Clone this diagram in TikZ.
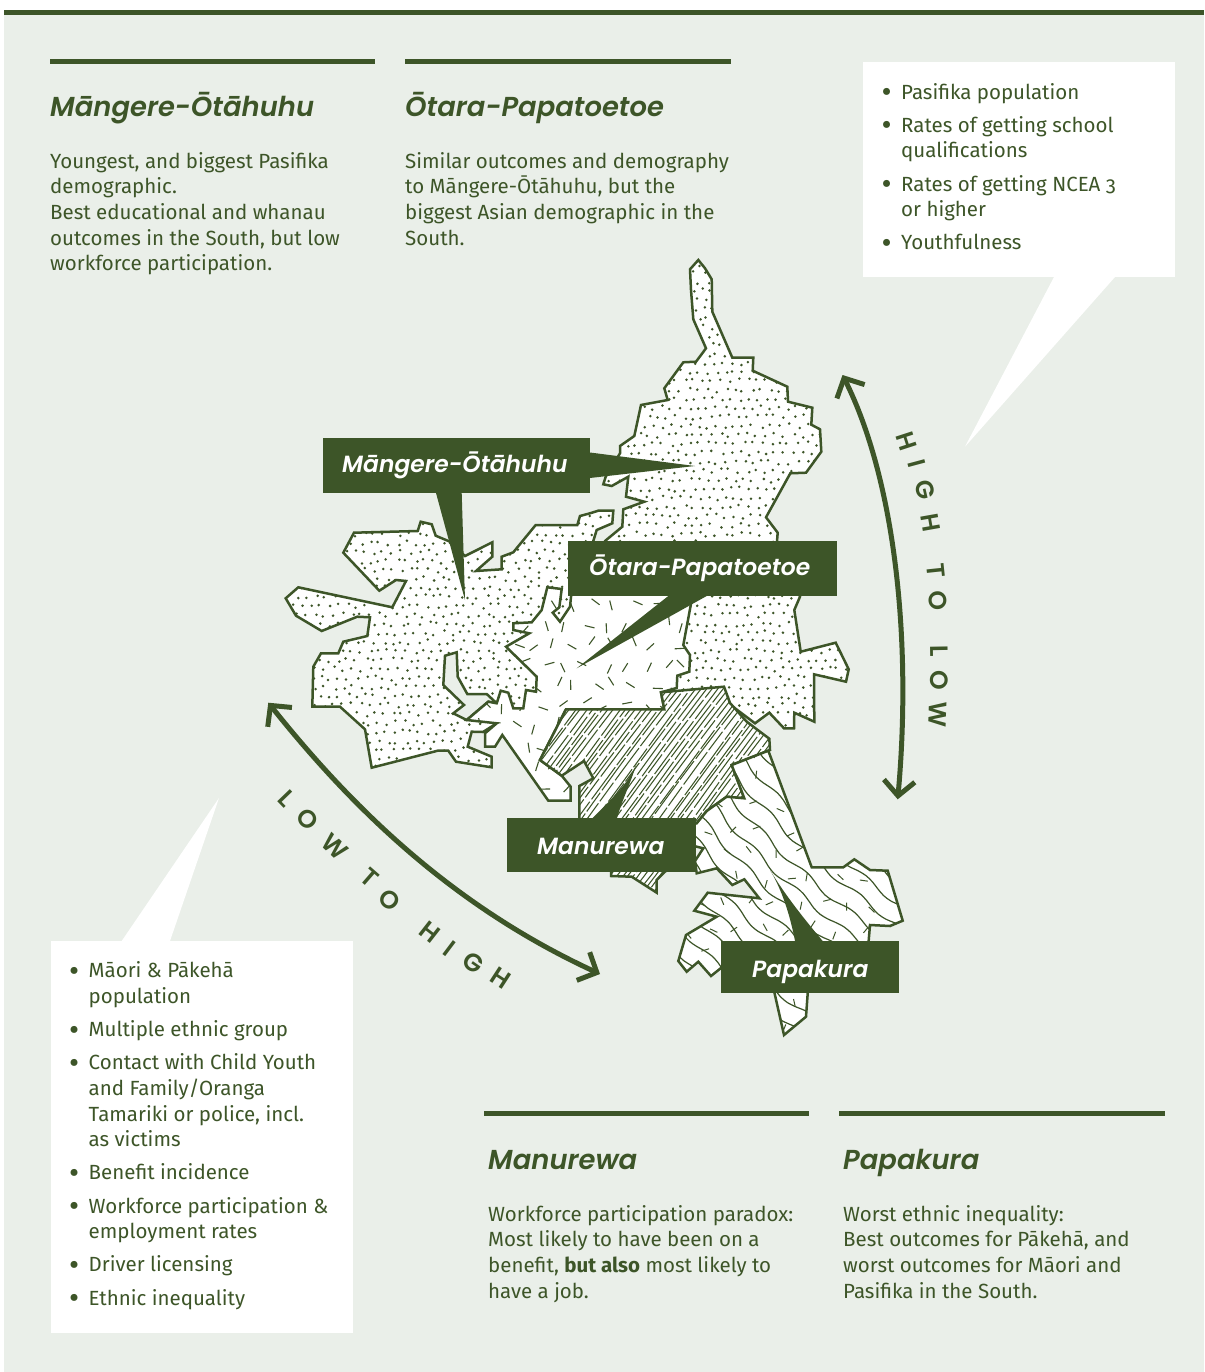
\documentclass[tikz,border=0pt]{standalone}
\usepackage{fontspec}
\setmainfont{Fira Sans}
\newfontfamily\hdfont{Poppins SemiBold}
\usetikzlibrary{arrows.meta}
\definecolor{ink}{HTML}{3D5528}
\definecolor{paper}{HTML}{EAEFE9}
\newcommand{\flr}{\rule{0pt}{18pt}}
\newcommand{\bul}{\llap{\raisebox{-3.6pt}{\fontsize{31}{31}\selectfont\textbullet}\hspace{9.6pt}}}
\newcommand{\itemgap}{\\[7.6pt]}
\newcommand{\PMangere}{(698.3,260) -- (705,268.3) -- (711.7,279.3) -- (712.3,311.7) -- (732.3,357.7) -- (753.3,357.7) -- (752.7,370.7) -- (787.3,386.7) -- (788,401.7) -- (812.3,407.7) -- (811.3,424.7) -- (820,429.3) -- (821.3,451.7) -- (806,472.7) -- (790.3,473.3) -- (766,517.3) -- (777.7,532.7) -- (776.7,545) -- (800,596.7) -- (794.3,610) -- (800.7,651.7) -- (835.7,642.7) -- (848.7,669.3) -- (846,681.7) -- (814,674.3) -- (814.3,721.7) -- (794.3,712.7) -- (794,728.3) -- (784,728.3) -- (769.3,712.7) -- (755,723.3) -- (724,700) -- (661,700) -- (600,720) -- (510,725) -- (496.7,723.3) -- (483,732) -- (471.7,731.7) -- (467.7,746.7) -- (491.7,756.7) -- (491.7,767.3) -- (456,761.7) -- (448.3,750.7) -- (437.7,750.7) -- (371.7,767.7) -- (365,729.3) -- (340,706.7) -- (312.3,706.7) -- (313.3,666.7) -- (321,653.3) -- (338.3,653.3) -- (343.3,641.7) -- (367.3,636) -- (370,617.3) -- (357.3,616.7) -- (321.7,631) -- (296,615.7) -- (285.7,598.3) -- (298.3,587.3) -- (392.3,607.3) -- (406,581) -- (396,580) -- (379.3,590.7) -- (343.3,552.7) -- (354,532.7) -- (417.7,531) -- (420.7,521.7) -- (431.7,524.3) -- (435.7,535.7) -- (450,541.7) -- (465,556) -- (492.3,542.3) -- (492.3,556.7) -- (476,571) -- (501.7,569.3) -- (501.7,556.7) -- (513.3,552.3) -- (535.7,525) -- (577.3,525) -- (580,516) -- (590,513.3) -- (598.3,510.7) -- (613.3,510.7) -- (612.3,523.3) -- (596.7,530) -- (593.3,541) -- (593,560) -- (605,560) -- (605,541) -- (622.3,526.7) -- (623.3,509.3) -- (644.3,501.7) -- (626,496.7) -- (628.3,476.7) -- (611.7,486) -- (603.3,484.3) -- (605.7,476.7) -- (620,453.3) -- (620,446) -- (634.3,436) -- (641,405) -- (667.7,400) -- (664.3,388.3) -- (683.3,362.3) -- (696,361.7) -- (706,348.3) -- (693.3,319.3) -- (691,290) -- (690,269.3) -- cycle}
\newcommand{\PWater}{(456.7,652.3) -- (445,655.7) -- (443.3,685) -- (464,705) -- (453.3,713.3) -- (466.7,720) -- (488.3,701.7) -- (496.7,703.3) -- (486.7,694) -- (467.3,694) -- (457.7,676.7) -- cycle}
\newcommand{\POtara}{(691.7,600) -- (683.3,645) -- (690,655) -- (689.3,671.7) -- (677.3,675.7) -- (676.7,688) -- (661,692.3) -- (664.3,709.3) -- (566,709.3) -- (540,760) -- (561.7,775.7) -- (570.7,786.7) -- (570.7,800.7) -- (548.3,800.7) -- (502.3,735) -- (495,746.7) -- (485,746.7) -- (485,733.3) -- (496.7,723.3) -- (466.7,720) -- (488.3,701.7) -- (496.7,703.3) -- (500.7,690.7) -- (508.3,692.7) -- (513.3,708.3) -- (523.3,708.3) -- (526,690) -- (536,691.7) -- (536.7,676.7) -- (506,646.7) -- (529.3,633.3) -- (513.3,630) -- (513.3,623.3) -- (531.7,622.3) -- (541.7,610) -- (547.3,587.3) -- (561.7,589) -- (559.3,607.3) -- (552.7,612.7) -- (560,621.7) -- (570,606.7) -- (571.7,590) -- (700,590) -- cycle}
\newcommand{\PManurewa}{(566,709.3) -- (664.3,709.3) -- (661,692.3) -- (724,686.7) -- (730,703) -- (746.7,721.7) -- (769.3,738.7) -- (770,750) -- (731.7,765) -- (744.3,798.3) -- (726.7,796.7) -- (706.7,811) -- (696.7,823.3) -- (690,850) -- (665,871.7) -- (656.7,880) -- (656.7,892.7) -- (631.7,876.7) -- (611,876) -- (611,860) -- (579.3,840) -- (579.3,786) -- (593.3,778.3) -- (584,761) -- (561.7,775.7) -- (540,760) -- cycle}
\newcommand{\PPapakura}{(731.7,765) -- (768.3,750.7) -- (811.7,867.3) -- (843.3,867.3) -- (854.3,859.3) -- (870,870) -- (887.7,870.7) -- (902.7,920.7) -- (890,926) -- (870,925) -- (868.3,945) -- (808.3,985) -- (806,1016.7) -- (784,1035) -- (772.7,985) -- (725,960) -- (721,968) -- (711,976) -- (698.3,961.7) -- (686.7,971.7) -- (678.3,961) -- (686,935) -- (716.7,916.7) -- (694.3,910.7) -- (707.7,892.7) -- (759.3,898.3) -- (744.3,879.3) -- (732.3,885) -- (716.7,868.3) -- (696.7,873.3) -- (695,861) -- (703.3,848.3) -- (690,845) -- (690,825) -- (696.7,823.3) -- (706.7,811) -- (726.7,796.7) -- (744.3,798.3) -- cycle}
\tikzset{
  region/.style={draw=ink,line width=2.5pt,line join=miter,miter limit=6},
  bodytext/.style={anchor=north west,inner sep=0pt,align=left,text=ink,font=\fontsize{20.5}{25.6}\selectfont},
  head/.style={anchor=base west,inner sep=0pt,text=ink,font=\hdfont\itshape\fontsize{27.4}{32}\selectfont},
  tag/.style={anchor=base west,inner sep=0pt,text=white,font=\hdfont\itshape\fontsize{23.4}{28}\selectfont},
  bar/.style={fill=ink,draw=none},
  callout/.style={fill=white,draw=none},
  arc letter/.style={text=ink,inner sep=0pt,font=\hdfont\fontsize{25}{28}\selectfont},
  bend arrow/.style={draw=ink,line width=5pt,{Straight Barb[length=15pt,width=31pt,line width=5pt]}-{Straight Barb[length=15pt,width=31pt,line width=5pt]}},
}
\begin{document}
\begin{tikzpicture}[x=1pt,y=-1pt]
\useasboundingbox (0,0) rectangle (1204,1372);
\fill[white] (0,0) rectangle (1204,1372);
\fill[paper] (4,15) rectangle (1204,1372);
\fill[bar] (4,10) rectangle (1204,15.3);
% section bars
\fill[bar] (50,59) rectangle (375,64);
\fill[bar] (405,59) rectangle (731,64);
\fill[bar] (484,1111) rectangle (809,1116);
\fill[bar] (839,1111) rectangle (1165,1116);
% headings and body
\node[head] (h1) at (50,116.2) {Māngere-Ōtāhuhu};
\node[head] (h2) at (405,116.2) {Ōtara-Papatoetoe};
\node[head] (h3) at (488,1169.5) {Manurewa};
\node[head] (h4) at (843,1169.5) {Papakura};
\node[bodytext] (b1) at (50,150) {\flr Youngest, and biggest Pasifika\\demographic.\\Best educational and whanau\\outcomes in the South, but low\\workforce participation.};
\node[bodytext] (b2) at (405,150) {\flr Similar outcomes and demography\\to Māngere-Ōtāhuhu, but the\\biggest Asian demographic in the\\South.};
\node[bodytext] (b3) at (488,1203) {\flr Workforce participation paradox:\\Most likely to have been on a\\benefit, \textbf{but also} most likely to\\have a job.};
\node[bodytext] (b4) at (843,1203) {\flr Worst ethnic inequality:\\Best outcomes for Pākehā, and\\worst outcomes for Māori and\\Pasifika in the South.};
% callouts
\fill[callout] (862.7,62.3) rectangle (1175,277.3);
\fill[callout] (1054,277) -- (1115,277) -- (965,446.7) -- cycle;
\fill[callout] (50.7,940.7) rectangle (353.3,1332.7);
\fill[callout] (121.7,941) -- (170,941) -- (219,798) -- cycle;
\node[bodytext] (l1) at (901,81) {\flr\bul Pasifika population\itemgap\bul Rates of getting school\\qualifications\itemgap\bul Rates of getting NCEA {\addfontfeature{Numbers=OldStyle}3}\\or higher\itemgap\bul Youthfulness};
\node[bodytext] (l2) at (88.5,959.7) {\flr\bul Māori \& Pākehā\\population\itemgap\bul Multiple ethnic group\itemgap\bul Contact with Child Youth\\and Family/Oranga\\Tamariki or police, incl.\\as victims\itemgap\bul Benefit incidence\itemgap\bul Workforce participation \&\\employment rates\itemgap\bul Driver licensing\itemgap\bul Ethnic inequality};
% Mangere region
\pgfmathsetseed{7}
\fill[white] \PMangere;
\begin{scope}
\clip \PMangere;
\foreach \gx in {0,...,64} {
  \fill[ink] \foreach \gy in {0,...,61} {
   ({280+\gx*9+mod(\gy,2)*4.5+(rnd-0.5)*5},{255+\gy*9+(rnd-0.5)*5}) circle (1.4pt) };
}
\end{scope}
\draw[region] \PMangere;
\filldraw[region,fill=paper] \PWater;
% Otara region
\fill[white] \POtara;
\begin{scope}
\clip \POtara;
\foreach \gx in {0,...,12} { \foreach \gy in {0,...,11} {
  \pgfmathsetmacro\cx{465+\gx*20+mod(\gy,2)*10+(rnd-0.5)*10}
  \pgfmathsetmacro\cy{585+\gy*20+(rnd-0.5)*10}
  \pgfmathsetmacro\ang{rnd*180}
  \draw[ink,line width=1.1pt] ({\cx-5*cos(\ang)},{\cy-5*sin(\ang)}) -- ({\cx+5*cos(\ang)},{\cy+5*sin(\ang)});
} }
\end{scope}
\draw[region] \POtara;
% Manurewa region
\fill[white] \PManurewa;
\begin{scope}
\clip \PManurewa;
\foreach \k in {0,...,62} {
  \pgfmathsetmacro\sx{400+\k*5.5}
  \pgfmathsetmacro\ca{(rnd-0.5)*8}
  \pgfmathsetmacro\cb{(rnd-0.5)*8}
  \pgfmathsetmacro\ph{rnd*70}
  \draw[ink,line width=1.05pt,dash pattern=on 40pt off 2.5pt on 23pt off 3pt,dash phase=\ph pt]
    (\sx,900) .. controls ({\sx+55+\ca},830) and ({\sx+95+\cb},770) .. ({\sx+165},680);
} 
\end{scope}
\draw[region] \PManurewa;
% Papakura region
\fill[white] \PPapakura;
\begin{scope}
\clip \PPapakura;
\foreach \k in {-7,...,5} {
  \draw[ink,line width=1.2pt] plot[domain=0:600,samples=70,smooth,variable=\t]
   ({558+\k*18*0.67+\t*0.74+(2.6*sin(\t*6+\k*40)+0.0006*(\t-300)*(\t-300))*0.67},{699-\k*18*0.74+\t*0.67-(2.6*sin(\t*6+\k*40)+0.0006*(\t-300)*(\t-300))*0.74});
}
\foreach \gx in {0,...,9} { \foreach \gy in {0,...,12} {
  \pgfmathsetmacro\cx{675+\gx*25+mod(\gy,2)*12+(rnd-0.5)*12}
  \pgfmathsetmacro\cy{755+\gy*25+(rnd-0.5)*12}
  \pgfmathsetmacro\ang{rnd*180}
  \draw[ink,line width=1pt] ({\cx-4*cos(\ang)},{\cy-4*sin(\ang)}) -- ({\cx+4*cos(\ang)},{\cy+4*sin(\ang)});
} }
\end{scope}
\draw[region] \PPapakura;
% name tags and their pointers
\fill[bar] (590,452.5) -- (695,466) -- (590,478) -- cycle;
\fill[bar] (436,493) -- (461.7,493) -- (465,600) -- cycle;
\fill[bar] (322.5,437.7) rectangle (590,493.3);
\fill[bar] (668.3,596) -- (706.7,596) -- (576.7,668.3) -- cycle;
\fill[bar] (567.7,541) rectangle (836.7,596);
\fill[bar] (591.7,819) .. controls (610,800) and (628,785) .. (636.7,763.3) .. controls (630,785) and (622,800) .. (616.7,819) -- cycle;
\fill[bar] (507.3,818.3) rectangle (695.7,871.7);
\fill[bar] (795,941) .. controls (790,915) and (782,890) .. (770,870) .. controls (785,895) and (805,920) .. (822.7,941) -- cycle;
\fill[bar] (721,941) rectangle (899,993.3);
\node[tag] (t1) at (342,472) {Māngere-Ōtāhuhu};
\node[tag] (t2) at (589,575) {Ōtara-Papatoetoe};
\node[tag] (t3) at (537,854) {Manurewa};
\node[tag] (t4) at (752,977) {Papakura};
% arrows
\coordinate (a1) at (842.5,375);
\coordinate (a2) at (897.7,799.3);
\coordinate (a3) at (268.3,702.7);
\coordinate (a4) at (600,974);
\draw[bend arrow] (a1) .. controls (895,480) and (912,640) .. (a2);
\draw[bend arrow] (a3) .. controls (350,805) and (450,905) .. (a4);
% arc lettering
\node[arc letter,rotate=-72] (c1) at (907,441) {H};
\node[arc letter,rotate=-75] (c2) at (917,464) {I};
\node[arc letter,rotate=-77] (c3) at (925,490) {G};
\node[arc letter,rotate=-80] (c4) at (931,523) {H};
\node[arc letter,rotate=-84] (c5) at (936,571) {T};
\node[arc letter,rotate=-86] (c6) at (938,601) {O};
\node[arc letter,rotate=-89] (c7) at (939,651) {L};
\node[arc letter,rotate=-90] (c8) at (939,680) {O};
\node[arc letter,rotate=-92] (c9) at (938,715) {W};
\node[arc letter,rotate=-46] (d1) at (286.7,798.3) {L};
\node[arc letter,rotate=-45] (d2) at (308,819) {O};
\node[arc letter,rotate=-43] (d3) at (335,846.7) {W};
\node[arc letter,rotate=-41] (d4) at (370,878) {T};
\node[arc letter,rotate=-40] (d5) at (390,900) {O};
\node[arc letter,rotate=-38] (d6) at (430,931.7) {H};
\node[arc letter,rotate=-37] (d7) at (450,948.5) {I};
\node[arc letter,rotate=-35] (d8) at (473.5,963) {G};
\node[arc letter,rotate=-33] (d9) at (501,978.5) {H};
\end{tikzpicture}
\end{document}
